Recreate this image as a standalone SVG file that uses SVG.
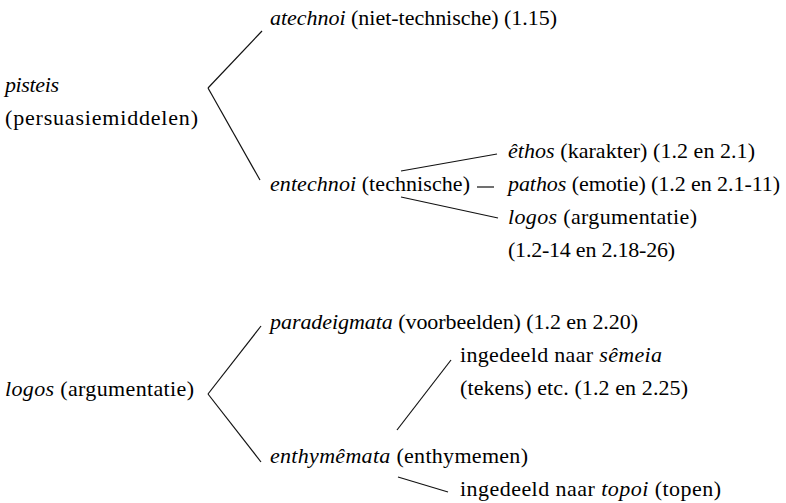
<svg xmlns="http://www.w3.org/2000/svg" width="786" height="503" viewBox="0 0 786 503">
<rect width="786" height="503" fill="#fff"/>
<g id="pisteis"><text x="5" y="92" style="font-family:'Liberation Serif',serif;font-style:italic" font-family="Liberation Serif" font-size="22" textLength="54">pisteis</text><text x="5" y="125" style="font-family:'Liberation Serif',serif" font-family="Liberation Serif" font-size="22" textLength="193">(persuasiemiddelen)</text></g>
<g id="atechnoi"><text x="270" y="25" style="font-family:'Liberation Serif',serif" font-family="Liberation Serif" font-size="22" textLength="287"><tspan font-style="italic">atechnoi</tspan> (niet-technische) (1.15)</text></g>
<g id="entechnoi"><text x="270" y="191" style="font-family:'Liberation Serif',serif" font-family="Liberation Serif" font-size="22" textLength="200"><tspan font-style="italic">entechnoi</tspan> (technische)</text></g>
<g id="ethos"><text x="508" y="158" style="font-family:'Liberation Serif',serif" font-family="Liberation Serif" font-size="22" textLength="247"><tspan font-style="italic">êthos</tspan> (karakter) (1.2 en 2.1)</text></g>
<g id="pathos"><text x="508" y="191" style="font-family:'Liberation Serif',serif" font-family="Liberation Serif" font-size="22" textLength="272"><tspan font-style="italic">pathos</tspan> (emotie) (1.2 en 2.1-11)</text></g>
<g id="logos1"><text x="508" y="224" style="font-family:'Liberation Serif',serif" font-family="Liberation Serif" font-size="22" textLength="189"><tspan font-style="italic">logos</tspan> (argumentatie)</text><text x="508" y="257" style="font-family:'Liberation Serif',serif" font-family="Liberation Serif" font-size="22" textLength="167">(1.2-14 en 2.18-26)</text></g>
<g id="logos2"><text x="5" y="396" style="font-family:'Liberation Serif',serif" font-family="Liberation Serif" font-size="22" textLength="189"><tspan font-style="italic">logos</tspan> (argumentatie)</text></g>
<g id="paradeigmata"><text x="270" y="329" style="font-family:'Liberation Serif',serif" font-family="Liberation Serif" font-size="22" textLength="368"><tspan font-style="italic">paradeigmata</tspan> (voorbeelden) (1.2 en 2.20)</text></g>
<g id="semeia"><text x="460" y="362" style="font-family:'Liberation Serif',serif" font-family="Liberation Serif" font-size="22" textLength="202">ingedeeld naar <tspan font-style="italic">sêmeia</tspan></text><text x="460" y="395" style="font-family:'Liberation Serif',serif" font-family="Liberation Serif" font-size="22" textLength="228">(tekens) etc. (1.2 en 2.25)</text></g>
<g id="enthymemata"><text x="270" y="463" style="font-family:'Liberation Serif',serif" font-family="Liberation Serif" font-size="22" textLength="258"><tspan font-style="italic">enthymêmata</tspan> (enthymemen)</text></g>
<g id="topoi"><text x="460" y="496" style="font-family:'Liberation Serif',serif" font-family="Liberation Serif" font-size="22" textLength="261">ingedeeld naar <tspan font-style="italic">topoi</tspan> (topen)</text></g>
<g id="connectors" stroke="#111" stroke-width="1.2" fill="none">
<line x1="262" y1="31" x2="208" y2="88"/>
<line x1="208" y1="88" x2="260" y2="180"/>
<line x1="401" y1="171" x2="497" y2="154"/>
<line x1="477" y1="187" x2="494" y2="187"/>
<line x1="401" y1="197" x2="498" y2="218"/>
<line x1="261" y1="326" x2="208" y2="394"/>
<line x1="208" y1="394" x2="261" y2="462"/>
<line x1="397" y1="430" x2="451" y2="360"/>
<line x1="398" y1="477" x2="448" y2="492"/>
</g>
</svg>
